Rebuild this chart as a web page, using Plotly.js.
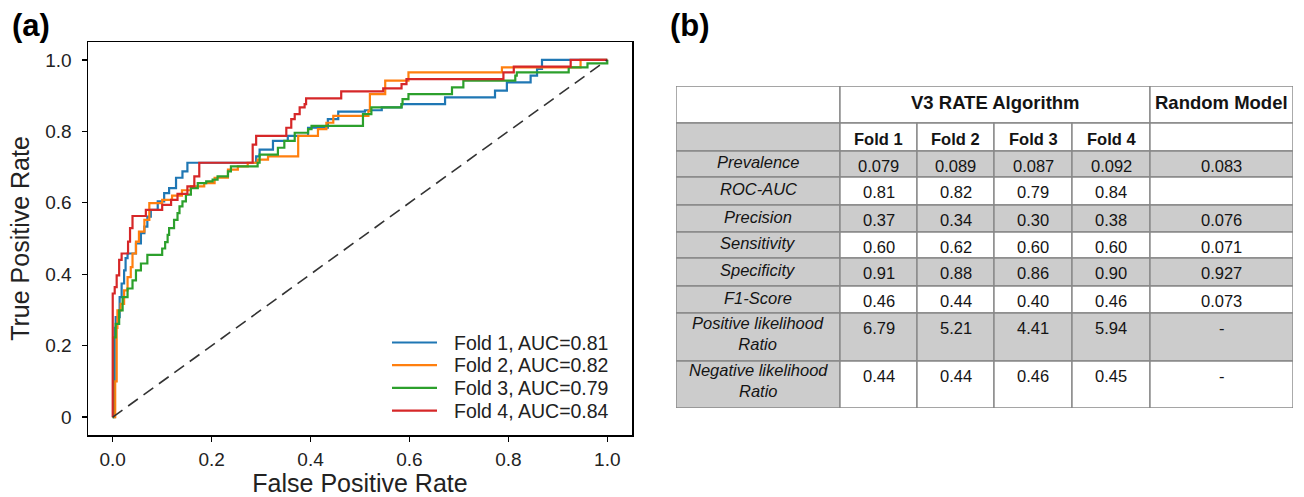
<!DOCTYPE html>
<html>
<head>
<meta charset="utf-8">
<script src="https://cdn.plot.ly/plotly-3.0.1.min.js"></script>
<style>html,body{margin:0;padding:0;background:#fff}#chart{width:1304px;height:497px}</style>
</head>
<body>
<div id="chart"></div>
<script>
// ---------- ROC data (FPR step position, TPR reached at that step) ----------
const foldNames = ['Fold 1, AUC=0.81', 'Fold 2, AUC=0.82', 'Fold 3, AUC=0.79', 'Fold 4, AUC=0.84'];
const fpr1 = [0, 0.004, 0.006, 0.014, 0.018, 0.023, 0.026, 0.030, 0.047, 0.057, 0.064, 0.070, 0.077, 0.091, 0.104, 0.114, 0.128, 0.141, 0.151, 0.290, 0.297, 0.324, 0.354, 0.395, 0.435, 0.456, 0.510, 0.544, 0.584, 0.672, 0.773, 0.797, 0.845, 0.858, 0.868, 1.0];
const tpr1 = [0, 0.250, 0.280, 0.336, 0.374, 0.411, 0.445, 0.458, 0.486, 0.515, 0.533, 0.561, 0.580, 0.604, 0.627, 0.641, 0.670, 0.688, 0.712, 0.730, 0.749, 0.773, 0.787, 0.810, 0.834, 0.855, 0.859, 0.867, 0.876, 0.895, 0.914, 0.937, 0.956, 0.975, 1.0, 1.0];
const fpr2 = [0, 0.005, 0.008, 0.0095, 0.016, 0.023, 0.030, 0.0365, 0.040, 0.047, 0.053, 0.064, 0.074, 0.100, 0.120, 0.140, 0.158, 0.185, 0.206, 0.233, 0.253, 0.273, 0.293, 0.314, 0.375, 0.415, 0.432, 0.446, 0.517, 0.520, 0.551, 0.598, 0.787, 0.946, 1.0];
const tpr2 = [0, 0.100, 0.250, 0.299, 0.317, 0.355, 0.392, 0.420, 0.458, 0.491, 0.519, 0.552, 0.599, 0.608, 0.620, 0.635, 0.646, 0.655, 0.670, 0.693, 0.702, 0.712, 0.721, 0.730, 0.787, 0.806, 0.824, 0.843, 0.857, 0.904, 0.942, 0.965, 0.979, 1.0, 1.0];
const fpr3 = [0, 0.0007, 0.006, 0.013, 0.020, 0.030, 0.040, 0.047, 0.057, 0.070, 0.100, 0.106, 0.111, 0.114, 0.124, 0.131, 0.135, 0.141, 0.148, 0.158, 0.172, 0.189, 0.202, 0.212, 0.233, 0.239, 0.293, 0.297, 0.334, 0.347, 0.368, 0.395, 0.402, 0.506, 0.523, 0.584, 0.586, 0.598, 0.686, 0.709, 0.814, 0.817, 0.922, 0.960, 1.0];
const tpr3 = [0, 0.223, 0.261, 0.299, 0.336, 0.360, 0.383, 0.411, 0.430, 0.454, 0.472, 0.490, 0.510, 0.529, 0.552, 0.571, 0.590, 0.604, 0.623, 0.641, 0.655, 0.660, 0.665, 0.674, 0.688, 0.702, 0.712, 0.735, 0.754, 0.773, 0.796, 0.806, 0.815, 0.848, 0.867, 0.876, 0.890, 0.904, 0.923, 0.942, 0.956, 0.965, 0.979, 0.990, 1.0];
const fpr4 = [0, 0, 0.004, 0.008, 0.013, 0.018, 0.031, 0.035, 0.040, 0.067, 0.100, 0.118, 0.131, 0.151, 0.165, 0.175, 0.283, 0.290, 0.351, 0.361, 0.368, 0.378, 0.388, 0.391, 0.462, 0.547, 0.584, 0.594, 0.790, 0.811, 0.926, 1.0];
const tpr4 = [0, 0.346, 0.364, 0.397, 0.440, 0.458, 0.491, 0.529, 0.563, 0.580, 0.594, 0.608, 0.625, 0.646, 0.674, 0.712, 0.763, 0.787, 0.810, 0.834, 0.848, 0.867, 0.876, 0.892, 0.912, 0.920, 0.932, 0.946, 0.965, 0.981, 1.0, 1.0];
const chanceX = [0, 1];
const chanceY = [0, 1];
const xTickVals = [0, 0.2, 0.4, 0.6, 0.8, 1.0];
const xTickText = ['0.0', '0.2', '0.4', '0.6', '0.8', '1.0'];
const yTickVals = [0, 0.2, 0.4, 0.6, 0.8, 1.0];
const yTickText = ['0', '0.2', '0.4', '0.6', '0.8', '1.0'];

// ---------- Table data ----------
const groupHeaders = ['V3 RATE Algorithm', 'Random Model'];
const foldHeaders = ['Fold 1', 'Fold 2', 'Fold 3', 'Fold 4'];
const metricNames = ['Prevalence', 'ROC-AUC', 'Precision', 'Sensitivity', 'Specificity', 'F1-Score', 'Positive likelihood<br>Ratio', 'Negative likelihood<br>Ratio'];
const fold1Values = ['0.079', '0.81', '0.37', '0.60', '0.91', '0.46', '6.79', '0.44'];
const fold2Values = ['0.089', '0.82', '0.34', '0.62', '0.88', '0.44', '5.21', '0.44'];
const fold3Values = ['0.087', '0.79', '0.30', '0.60', '0.86', '0.40', '4.41', '0.46'];
const fold4Values = ['0.092', '0.84', '0.38', '0.60', '0.90', '0.46', '5.94', '0.45'];
const randomValues = ['0.083', '', '0.076', '0.071', '0.927', '0.073', '-', '-'];

// ---------- styling / geometry ----------
const W = 1304, H = 497;
const colors = ['#1f77b4', '#ff7f0e', '#2ca02c', '#d62728'];
const FONT = '"Liberation Sans", Arial, Helvetica, sans-serif';
const GREY = '#cccccc', BORDER = '#888888';
const tLeft = 676, tTop = 86, tRight = 1293, tBottom = 408;
const colEdges = [0, 164, 241, 318, 396, 474, 617];
const rowEdges = [0, 37, 65, 91, 119, 146, 172, 200, 227, 275, 322];
// legend placement (px)
const legLineX0 = 392, legLineX1 = 437, legTextX = 452, legFirstY = 342.5, legStep = 22.7;

const fprs = [fpr1, fpr2, fpr3, fpr4];
const tprs = [tpr1, tpr2, tpr3, tpr4];
const traces = [];
for (let i = 0; i < 4; i++) {
  traces.push({
    x: fprs[i], y: tprs[i], type: 'scatter', mode: 'lines', name: foldNames[i], showlegend: false,
    line: {color: colors[i], width: 2.2, shape: 'hv'}, xaxis: 'x', yaxis: 'y'
  });
}
traces.push({
  x: chanceX, y: chanceY, type: 'scatter', mode: 'lines', showlegend: false,
  line: {color: '#333333', width: 1.6, dash: '12px,7px'}, xaxis: 'x', yaxis: 'y', hoverinfo: 'skip'
});

const shapes = [];
const annotations = [];
// legend (drawn inside the axes, no frame)
for (let i = 0; i < 4; i++) {
  const yc = 1 - (legFirstY + i * legStep) / H;
  shapes.push({type: 'line', xref: 'paper', yref: 'paper', x0: legLineX0 / W, x1: legLineX1 / W, y0: yc, y1: yc,
    line: {color: colors[i], width: 2.2}});
  annotations.push({xref: 'paper', yref: 'paper', x: legTextX / W, y: yc, text: foldNames[i], showarrow: false,
    xanchor: 'left', yanchor: 'middle', font: {family: FONT, size: 19.5, color: '#222'}});
}
function rect(x0, x1, y0, y1, fill) {
  shapes.push({type: 'rect', xref: 'x2', yref: 'y2', x0: x0, x1: x1, y0: y0, y1: y1,
    fillcolor: fill, line: {color: BORDER, width: 1.4}, layer: 'above'});
}
function txt(x, y, text, size) {
  annotations.push({xref: 'x2', yref: 'y2', x: x, y: y, text: text, showarrow: false,
    xanchor: 'center', yanchor: 'middle', font: {family: FONT, size: size, color: '#141414'}});
}
// header row 1
rect(colEdges[0], colEdges[1], rowEdges[0], rowEdges[1], '#ffffff');
rect(colEdges[1], colEdges[5], rowEdges[0], rowEdges[1], '#ffffff');
rect(colEdges[5], colEdges[6], rowEdges[0], rowEdges[1], '#ffffff');
const hy = (rowEdges[0] + rowEdges[1]) / 2 - 2.5;
txt((colEdges[1] + colEdges[5]) / 2, hy, '<b>' + groupHeaders[0] + '</b>', 18.5);
txt((colEdges[5] + colEdges[6]) / 2, hy, '<b>' + groupHeaders[1] + '</b>', 18.5);
// header row 2
rect(colEdges[0], colEdges[1], rowEdges[1], rowEdges[2], GREY);
for (let c = 0; c < 4; c++) {
  rect(colEdges[c + 1], colEdges[c + 2], rowEdges[1], rowEdges[2], '#ffffff');
  txt((colEdges[c + 1] + colEdges[c + 2]) / 2, (rowEdges[1] + rowEdges[2]) / 2 + 2, '<b>' + foldHeaders[c] + '</b>', 16.5);
}
rect(colEdges[5], colEdges[6], rowEdges[1], rowEdges[2], '#ffffff');
// body
const valueCols = [fold1Values, fold2Values, fold3Values, fold4Values, randomValues];
for (let r = 0; r < metricNames.length; r++) {
  const y0 = rowEdges[r + 2], y1 = rowEdges[r + 3];
  const shaded = (r % 2 === 0);
  rect(colEdges[0], colEdges[1], y0, y1, GREY);
  const twoLine = metricNames[r].indexOf('<br>') >= 0;
  txt((colEdges[0] + colEdges[1]) / 2, (y0 + y1) / 2 - (twoLine ? 4 : 2), '<i>' + metricNames[r].replace('<br>', '</i><br><i>') + '</i>', 16.5);
  for (let c = 0; c < 5; c++) {
    rect(colEdges[c + 1], colEdges[c + 2], y0, y1, shaded ? GREY : '#ffffff');
    txt((colEdges[c + 1] + colEdges[c + 2]) / 2, y0 + 15, valueCols[c][r], 16.5);
  }
}
// panel labels
annotations.push({xref: 'paper', yref: 'paper', x: 10 / W, y: 1 - 25 / H, text: '<b>(a)</b>', showarrow: false,
  xanchor: 'left', yanchor: 'middle', font: {family: FONT, size: 31, color: '#000'}});
annotations.push({xref: 'paper', yref: 'paper', x: 668 / W, y: 1 - 25 / H, text: '<b>(b)</b>', showarrow: false,
  xanchor: 'left', yanchor: 'middle', font: {family: FONT, size: 31, color: '#000'}});

const axCommon = {showgrid: false, zeroline: false, showline: true, linecolor: '#000', linewidth: 1.5,
  mirror: true, ticks: 'outside', ticklen: 5, tickwidth: 1.3, tickcolor: '#000',
  tickfont: {family: FONT, size: 19, color: '#222'}};

const layout = {
  width: W, height: H, margin: {l: 0, r: 0, t: 0, b: 0}, paper_bgcolor: '#fff', plot_bgcolor: '#fff',
  font: {family: FONT}, showlegend: false,
  xaxis: Object.assign({}, axCommon, {domain: [88 / W, 632 / W], range: [-0.05, 1.05],
    tickvals: xTickVals, ticktext: xTickText, ticklabelstandoff: 2,
    title: {text: 'False Positive Rate', font: {family: FONT, size: 25, color: '#222'}, standoff: 8}}),
  yaxis: Object.assign({}, axCommon, {domain: [1 - 435 / H, 1 - 42 / H], range: [-0.05, 1.05],
    tickvals: yTickVals, ticktext: yTickText, ticklabelstandoff: 6,
    title: {text: 'True Positive Rate', font: {family: FONT, size: 25, color: '#222'}, standoff: 8}}),
  xaxis2: {domain: [tLeft / W, tRight / W], range: [0, 617], visible: false, fixedrange: true},
  yaxis2: {domain: [1 - tBottom / H, 1 - tTop / H], range: [322, 0], visible: false, fixedrange: true},
  shapes: shapes, annotations: annotations
};
traces.push({x: [0, 617], y: [0, 322], xaxis: 'x2', yaxis: 'y2', type: 'scatter', mode: 'markers',
  marker: {opacity: 0}, showlegend: false, hoverinfo: 'skip'});

Plotly.newPlot('chart', traces, layout, {displayModeBar: false, staticPlot: true});
</script>
</body>
</html>
